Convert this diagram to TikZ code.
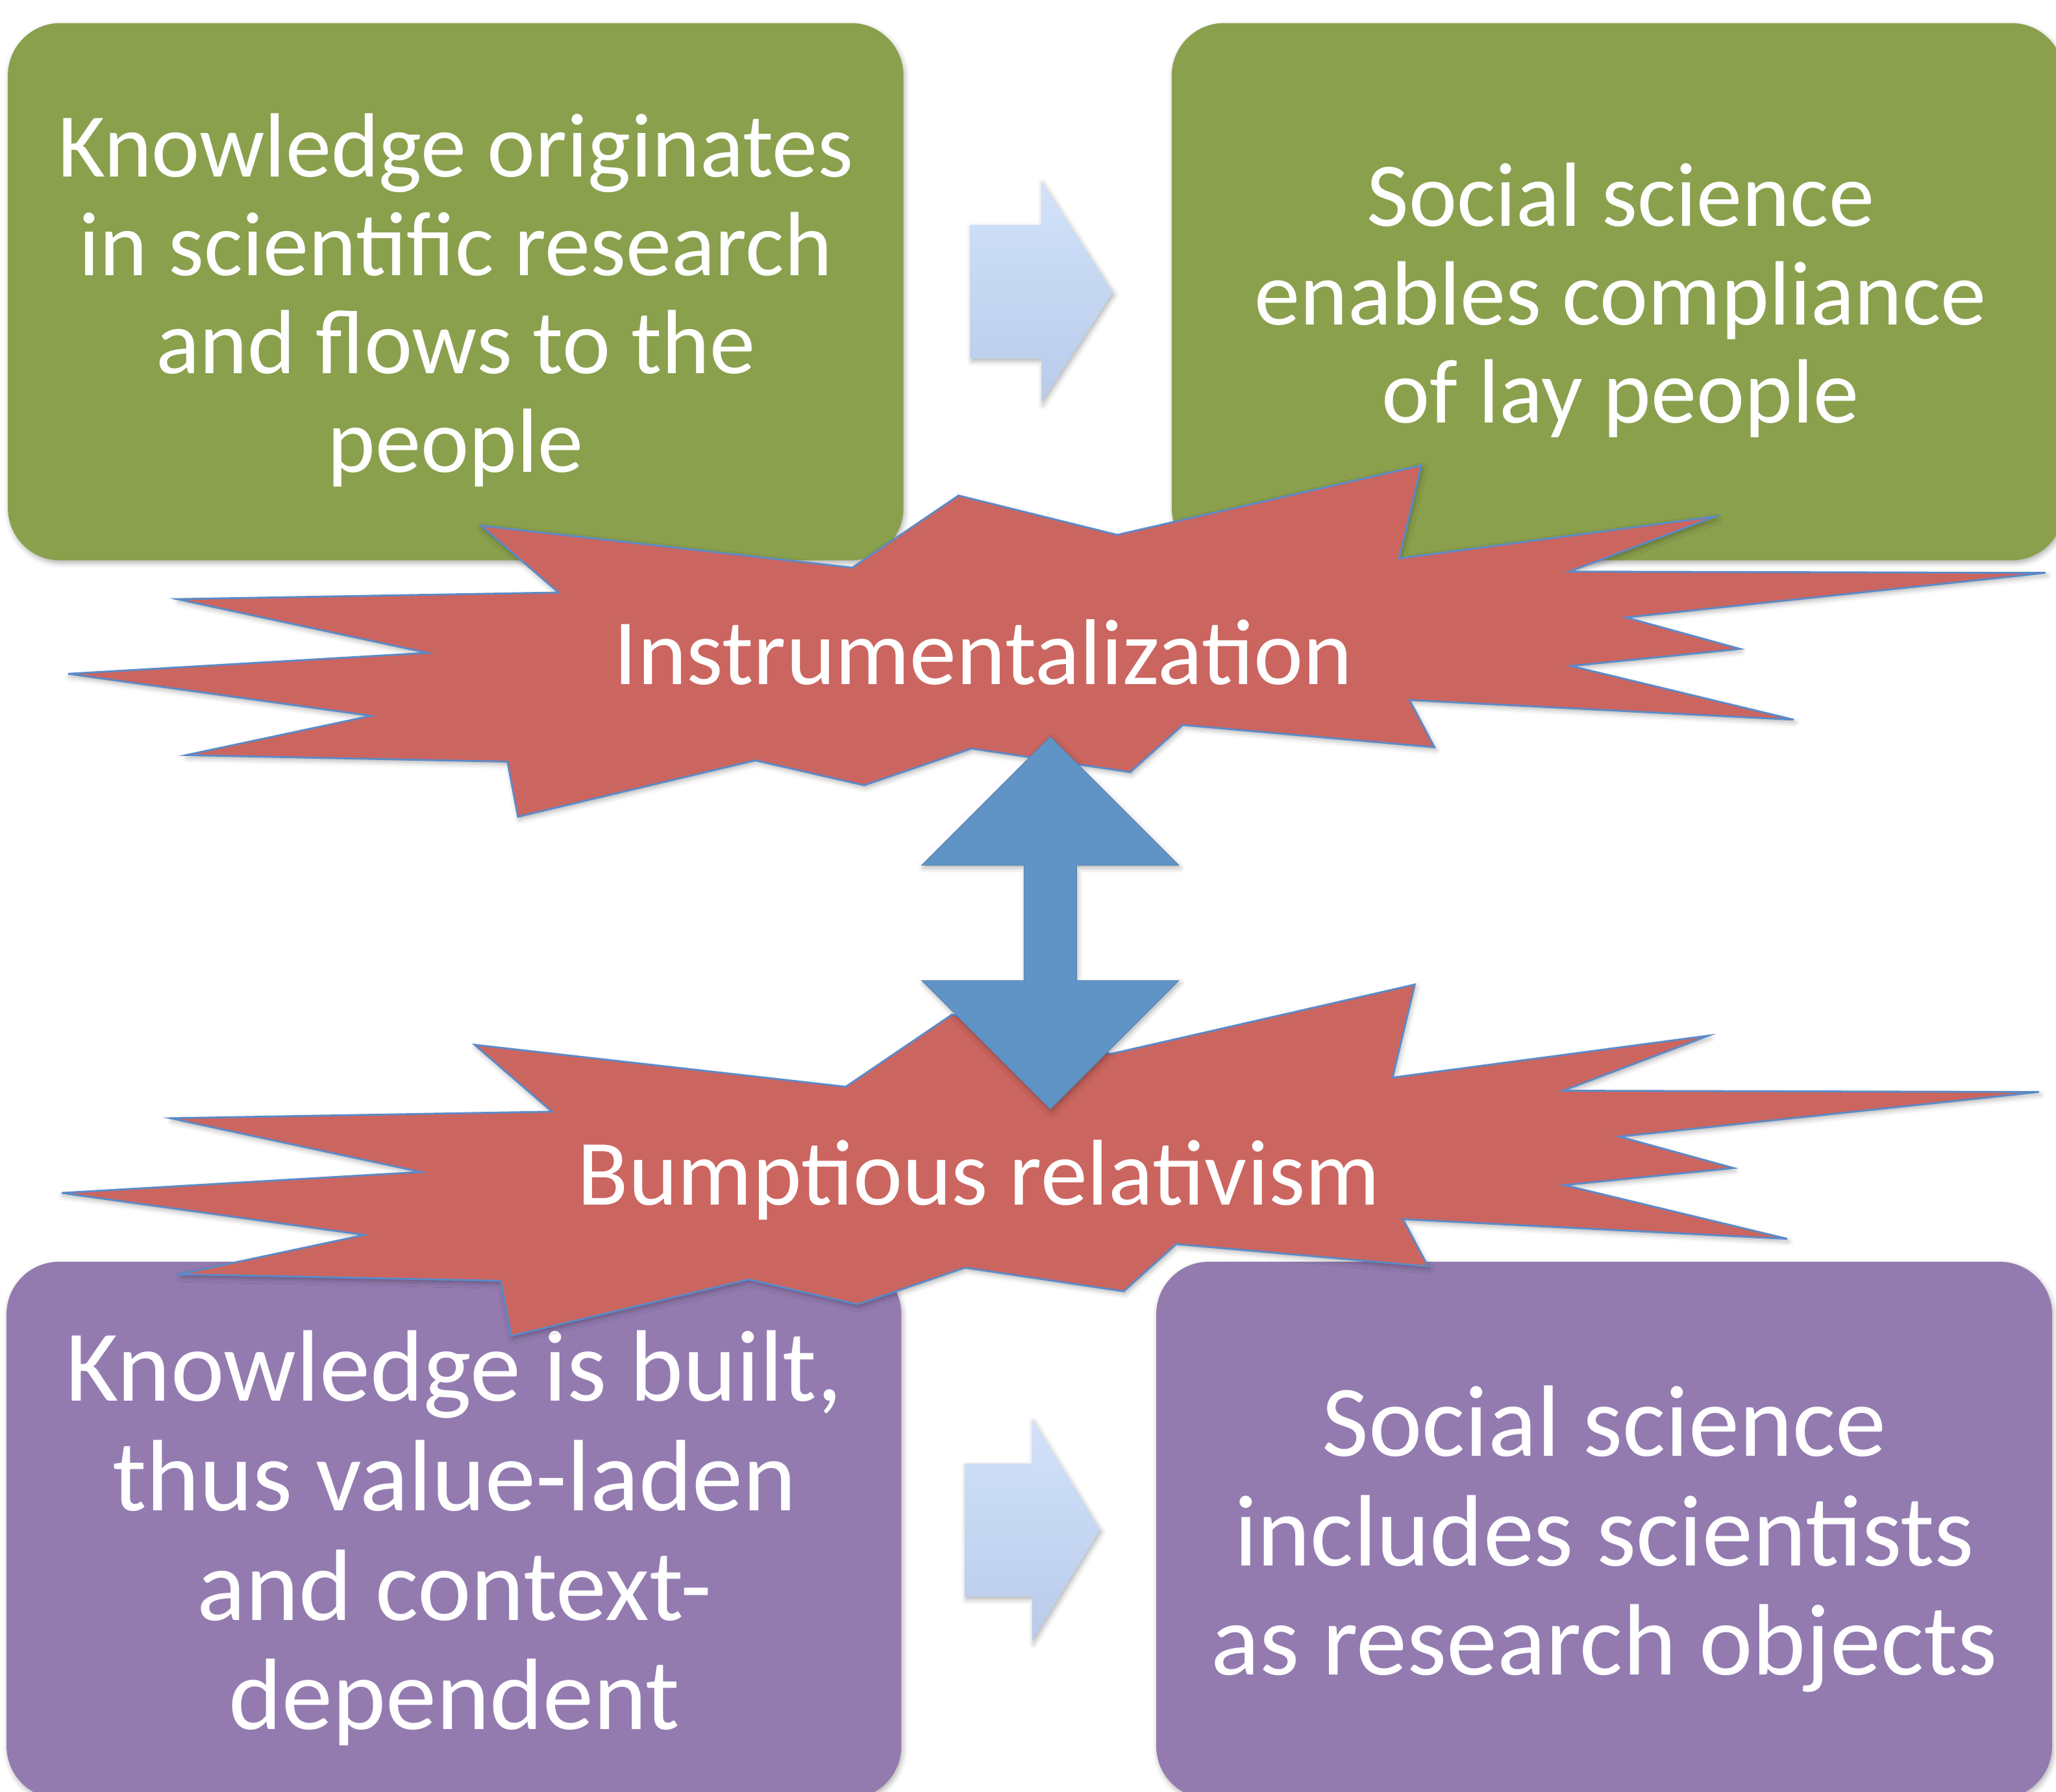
\documentclass[tikz,border=0pt]{standalone}
\usepackage{fontspec}
\setmainfont{Carlito}
\usetikzlibrary{shadows.blur}

\definecolor{boxgreen}{HTML}{8AA04D}
\definecolor{boxpurple}{HTML}{937BB0}
\definecolor{burstred}{HTML}{CB6560}
\definecolor{burstline}{HTML}{5A8AC8}
\definecolor{arrowblue}{HTML}{6094C6}
\definecolor{flowtop}{HTML}{D2E2FA}
\definecolor{flowbottom}{HTML}{B8CBE9}

\tikzset{
  softshadow/.style={blur shadow={shadow xshift=0.6pt, shadow yshift=-1.2pt,
      shadow blur radius=2.2pt, shadow opacity=30}},
  panel/.style={rounded corners=23pt, softshadow},
  greenpanel/.style={panel, fill=boxgreen},
  purplepanel/.style={panel, fill=boxpurple},
  flowarrow/.style={top color=flowtop, bottom color=flowbottom, draw=none, softshadow},
  linkarrow/.style={fill=arrowblue, draw=arrowblue!90!black, line width=0.3pt, softshadow},
  burstshape/.style={fill=burstred, draw=burstline, line width=0.8pt, line join=miter, softshadow},
  boxtext/.style={text=white, align=center, inner sep=0pt,
      font=\fontsize{40}{43.1}\selectfont},
  bigboxtext/.style={boxtext, font=\fontsize{44.5}{48}\selectfont},
  bursttext/.style={text=white, inner sep=0pt, anchor=base,
      font=\fontsize{41}{44}\selectfont},
  burst/.pic={
    \path[burstshape] (367,401) -- (650,433) -- (731,378) -- (852,408)
      -- (1084,355) -- (1067,426) -- (1308,394) -- (1197,436)
      -- (1560,437) -- (1240,471) -- (1327,495) -- (1198,508)
      -- (1368,549) -- (1075,534) -- (1094,570) -- (902,553)
      -- (862,589) -- (741,571) -- (659,599) -- (576,580)
      -- (395,623) -- (387,581) -- (142,576) -- (283,546)
      -- (52,514) -- (326,498) -- (135,457) -- (426,452) -- cycle;
  }
}

\begin{document}
\begin{tikzpicture}[x={(0.020198cm,0)}, y={(0,-0.020198cm)}]
  \useasboundingbox (0,0) rectangle (1568,1366.5);

  % four statement panels
  \path[greenpanel]  (6,17.6)    rectangle (689,427.5);
  \path[greenpanel]  (893.6,17.6) rectangle (1574,427.5);
  \path[purplepanel] (5,962.5)   rectangle (687.4,1372);
  \path[purplepanel] (881.8,962.5) rectangle (1565,1372);

  \node[boxtext] (science) at (347.5,229)
    {Knowledge originates\\in scientific research\\and flows to the\\people};
  \node[boxtext] (compliance) at (1236,229)
    {Social science\\enables compliance\\of lay people};
  \node[bigboxtext] (built) at (346.5,1173.5)
    {Knowledge is built,\\thus value-laden\\and context-\\dependent};
  \node[bigboxtext] (objects) at (1223.5,1174)
    {Social science\\includes scientists\\as research objects};

  % flow arrows between the panels of each row
  \path[flowarrow] (740,171.6) -- (794.3,171.6) -- (794.3,138.3) -- (848.8,222.8)
    -- (794.3,307) -- (794.3,273.6) -- (740,273.6) -- cycle;
  \path[flowarrow] (735.7,1116.4) -- (787.2,1116.4) -- (787.2,1082.6) -- (838.9,1166.8)
    -- (787.2,1251.8) -- (787.2,1218) -- (735.7,1218) -- cycle;

  % the two extremes
  \pic at (0,0) {burst};
  \pic at (-5,396) {burst};
  \node[bursttext] (instr) at (750,522) {Instrumentalization};
  \node[bursttext] (relat) at (746.5,919) {Bumptious relativism};

  % tension between the extremes
  \path[linkarrow] (801,562) -- (899,660) -- (821,660) -- (821,748) -- (899,748)
    -- (801,846) -- (703,748) -- (781,748) -- (781,660) -- (703,660) -- cycle;
\end{tikzpicture}
\end{document}
